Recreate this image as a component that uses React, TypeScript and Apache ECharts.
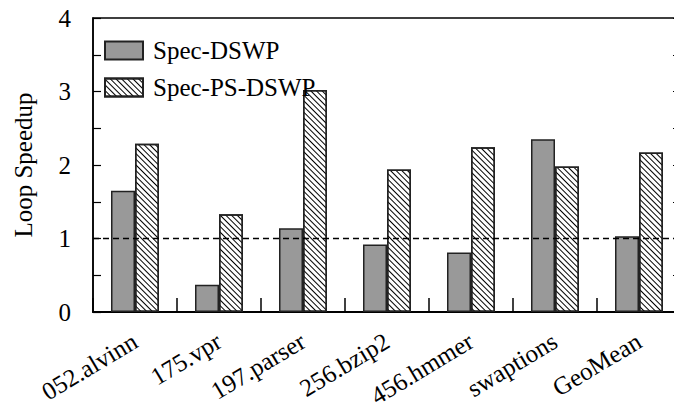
import React, { useEffect, useRef } from "react";
import * as echarts from "echarts";

const categories = ["052.alvinn", "175.vpr", "197.parser", "256.bzip2", "456.hmmer", "swaptions", "GeoMean"];
const specDswp = [1.65, 0.37, 1.14, 0.92, 0.81, 2.35, 1.03];
const specPsDswp = [2.29, 1.33, 3.02, 1.94, 2.24, 1.98, 2.17];
const seriesNames = ["Spec-DSWP", "Spec-PS-DSWP"];
const yTicks = { min: 0, max: 4, interval: 1 };
const baseline = 1;

const FONT = "'Liberation Serif', 'Times New Roman', serif";

export default function App() {
  const ref = useRef<HTMLDivElement>(null);
  useEffect(() => {
    if (!ref.current) return;
    const chart = echarts.init(ref.current, null, { renderer: "svg" });
    chart.setOption({
      animation: false,
      textStyle: { fontFamily: FONT, color: "#000" },
      grid: {
        left: 93,
        top: 18,
        bottom: 96,
        width: 588,
        outerBoundsMode: "none",
        containLabel: false,
        show: true,
        borderColor: "#000",
        borderWidth: 1.5,
        backgroundColor: "transparent",
      },
      legend: {
        orient: "vertical",
        left: 99,
        top: 33,
        itemWidth: 38,
        itemHeight: 18,
        itemGap: 12,
        icon: "rect",
        textStyle: { fontFamily: FONT, fontSize: 25, color: "#000", padding: [0, 0, 0, 5] },
        data: seriesNames,
      },
      xAxis: {
        type: "category",
        data: categories,
        axisLine: { lineStyle: { color: "#000", width: 2 } },
        axisTick: { show: true, inside: true, length: 14, interval: 0, lineStyle: { color: "#000", width: 1.5 } },
        axisLabel: {
          interval: 0,
          rotate: 31,
          margin: 27,
          fontSize: 25,
          fontFamily: FONT,
          color: "#000",
        },
      },
      yAxis: [
        {
          type: "value",
          min: yTicks.min,
          max: yTicks.max,
          interval: yTicks.interval,
          name: "Loop Speedup",
          nameLocation: "middle",
          nameGap: 57,
          nameTextStyle: { fontSize: 25, fontFamily: FONT, color: "#000" },
          axisLine: { show: true, lineStyle: { color: "#000", width: 1.5 } },
          axisTick: { show: true, inside: true, length: 8, lineStyle: { color: "#000", width: 1.2 } },
          minorTick: { show: true, splitNumber: 2, length: 8, lineStyle: { color: "#000", width: 1.2 } },
          splitLine: { show: false },
          axisLabel: { fontSize: 25, fontFamily: FONT, color: "#000", margin: 22 },
        },
        {
          type: "value",
          position: "right",
          min: yTicks.min,
          max: yTicks.max,
          interval: yTicks.interval,
          axisLine: { show: true, lineStyle: { color: "#000", width: 1.5 } },
          axisTick: { show: true, inside: true, length: 8, lineStyle: { color: "#000", width: 1.2 } },
          minorTick: { show: true, splitNumber: 2, length: 8, lineStyle: { color: "#000", width: 1.2 } },
          splitLine: { show: false },
          axisLabel: { show: false },
        },
      ],
      series: [
        {
          name: seriesNames[0],
          type: "bar",
          data: specDswp,
          barWidth: 24,
          barGap: "0%",
          itemStyle: { color: "#999999", borderColor: "#222", borderWidth: 1.5 },
          markLine: {
            silent: true,
            symbol: ["none", "none"],
            label: { show: false },
            lineStyle: { color: "#000", type: [6, 4], width: 1.3 },
            data: [{ yAxis: baseline }],
          },
        },
        {
          name: seriesNames[1],
          type: "bar",
          data: specPsDswp,
          barWidth: 24,
          barGap: "0%",
          itemStyle: {
            color: "#fff",
            borderColor: "#222",
            borderWidth: 1.5,
            decal: {
              symbol: "rect",
              symbolSize: 1,
              color: "#000",
              dashArrayX: [1, 0],
              dashArrayY: [1, 3],
              rotation: Math.PI / 4,
            },
          },
        },
      ],
    });
    return () => chart.dispose();
  }, []);
  return <div ref={ref} style={{ width: 674, height: 408, position: "absolute", left: 0, top: 0 }} />;
}
